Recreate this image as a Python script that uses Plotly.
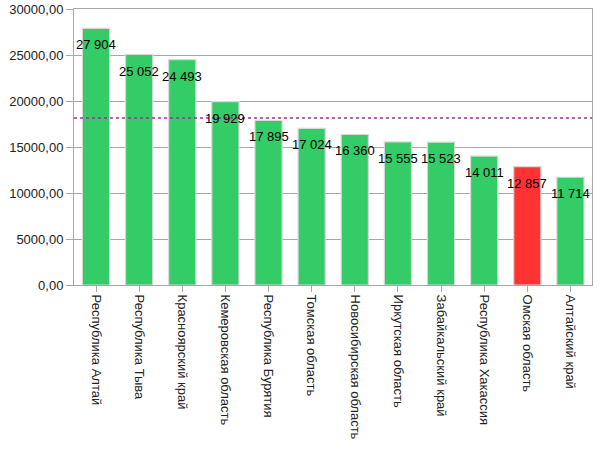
import plotly.graph_objects as go

categories = ["Республика Алтай", "Республика Тыва", "Красноярский край",
              "Кемеровская область", "Республика Бурятия", "Томская область",
              "Новосибирская область", "Иркутская область", "Забайкальский край",
              "Республика Хакассия", "Омская область", "Алтайский край"]
values = [27904, 25052, 24493, 19929, 17895, 17024, 16360, 15555, 15523, 14011, 12857, 11714]
value_labels = ["27 904", "25 052", "24 493", "19 929", "17 895", "17 024",
                "16 360", "15 555", "15 523", "14 011", "12 857", "11 714"]
highlight = "Омская область"
average_line = 18150
y_ticks = [0, 5000, 10000, 15000, 20000, 25000, 30000]
y_tick_labels = ["0,00", "5000,00", "10000,00", "15000,00", "20000,00", "25000,00", "30000,00"]

colors = ["#FF3333" if c == highlight else "#33CC66" for c in categories]

fig = go.Figure()
fig.add_trace(go.Bar(
    x=categories, y=values,
    marker=dict(color=colors, line=dict(color="#D8D8D8", width=1.2)),
    hoverinfo="skip",
))

for c, v, t in zip(categories, values, value_labels):
    fig.add_annotation(x=c, y=v, text=t, showarrow=False, yanchor="top", yshift=-7,
                       font=dict(family="Liberation Sans, Arial", size=13, color="#000000"))

fig.add_shape(type="line", xref="paper", x0=0, x1=1, yref="y", y0=average_line, y1=average_line,
              line=dict(color="#993399", width=1.5, dash="dot"))

fig.update_layout(
    width=600, height=459,
    margin=dict(l=74, r=8, t=9, b=174),
    plot_bgcolor="white", paper_bgcolor="white",
    showlegend=False, bargap=0.37,
    font=dict(family="Liberation Sans, Arial", size=13, color="#222222"),
)
fig.update_yaxes(range=[0, 30000], tickvals=y_ticks, ticktext=y_tick_labels,
                 showgrid=True, gridcolor="#A8A8A8", gridwidth=1,
                 showline=True, linecolor="#A8A8A8", mirror=True, automargin=False,
                 ticks="outside", ticklen=7, tickcolor="#A8A8A8", zeroline=False)
fig.update_xaxes(tickangle=90, showline=True, linecolor="#A8A8A8", mirror=True, automargin=False,
                 ticks="outside", ticklen=6, tickcolor="#A8A8A8")

fig.write_html("out.html", config={"displayModeBar": False},
               post_script="document.body.style.margin='0';")
